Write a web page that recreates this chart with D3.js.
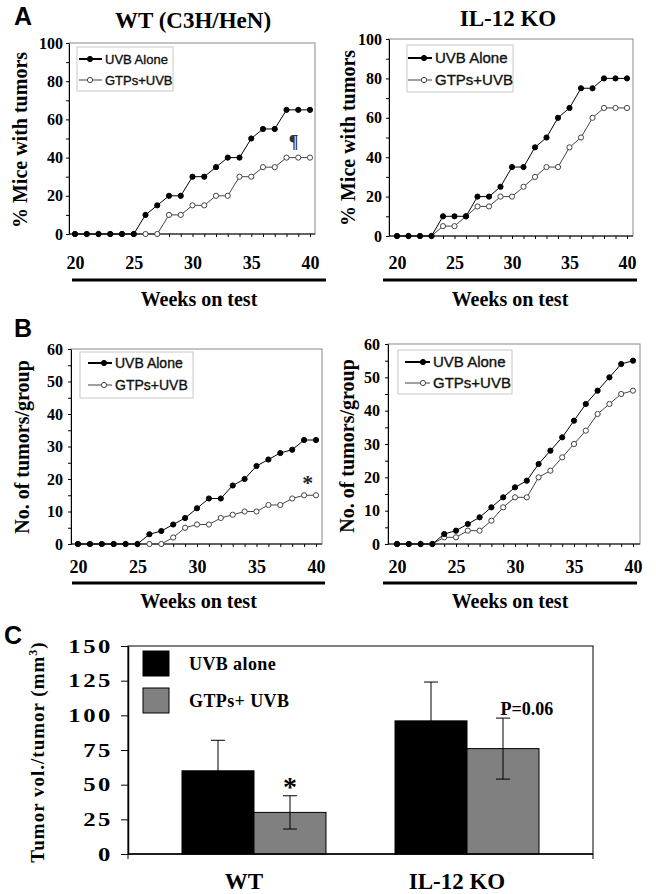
<!DOCTYPE html>
<html>
<head>
<meta charset="utf-8">
<script src="https://cdnjs.cloudflare.com/ajax/libs/d3/7.8.5/d3.min.js"></script>
<style>
    body { margin: 0; background: #fff; }
    svg { display: block; }
</style>
</head>
<body>
<svg class="chart"></svg>
<script>

//
// Three-panel figure: tumor incidence (A), multiplicity (B) and tumor volume (C).
//

var weeks = [20, 21, 22, 23, 24, 25, 26, 27, 28, 29, 30, 31, 32, 33, 34, 35, 36, 37, 38, 39, 40];
var weekTicks = [20, 25, 30, 35, 40];
var seriesNames = ["UVB Alone", "GTPs+UVB"];

// Panel A: % mice with tumors
var pctTicks = [0, 20, 40, 60, 80, 100];
var pctMinor = [10, 30, 50, 70, 90];
var wtPctUVB = [0, 0, 0, 0, 0, 0, 10, 15, 20, 20, 30, 30, 35, 40, 40, 50, 55, 55, 65, 65, 65];
var wtPctGTP = [0, 0, 0, 0, 0, 0, 0, 0, 10, 10, 15, 15, 20, 20, 30, 30, 35, 35, 40, 40, 40];
var koPctUVB = [0, 0, 0, 0, 10, 10, 10, 20, 20, 25, 35, 35, 45, 50, 60, 65, 75, 75, 80, 80, 80];
var koPctGTP = [0, 0, 0, 0, 5, 5, 10, 15, 15, 20, 20, 25, 30, 35, 35, 45, 50, 60, 65, 65, 65];

// Panel B: number of tumors per group
var countTicks = [0, 10, 20, 30, 40, 50, 60];
var countMinor = [5, 15, 25, 35, 45, 55];
var wtCountUVB = [0, 0, 0, 0, 0, 0, 3, 4, 6, 8, 11, 14, 14, 18, 20, 24, 26, 28, 29, 32, 32];
var wtCountGTP = [0, 0, 0, 0, 0, 0, 0, 0, 2, 5, 6, 6, 8, 9, 10, 10, 12, 12, 14, 15, 15];
var koCountUVB = [0, 0, 0, 0, 3, 4, 6, 8, 11, 14, 17, 19, 24, 28, 32, 37, 42, 46, 50, 54, 55];
var koCountGTP = [0, 0, 0, 0, 2, 2, 4, 4, 7, 11, 14, 14, 20, 22, 26, 30, 34, 39, 42, 45, 46];

// Panel C: tumor volume per tumor
var groups = ["WT", "IL-12 KO"];
var barNames = ["UVB alone", "GTPs+ UVB"];
var volUVB = [60, 96];
var volGTP = [30, 76];
var errUVB = [22, 28];
var errGTP = [12, 22];
var volTicks = [0, 25, 50, 75, 100, 125, 150];

var SERIF = '"Liberation Serif", "Times New Roman", serif';
var SANS = '"Liberation Sans", Arial, sans-serif';

var width = 656;
var height = 894;

var svg = d3.select("svg.chart")
    .attr("width", width)
    .attr("height", height);

function serifText (sel, size) { // Bold Times-like text, as in the figure.
    return sel
        .style("font-family", SERIF)
        .style("font-weight", "bold")
        .style("font-size", size + "px");
}

function drawLinePanel (p) { // Draws one line chart with its frame, axes, legend and labels.

    var x = d3.scaleLinear().domain([20, 40]).range([p.x0, p.x1]);
    var y = d3.scaleLinear().domain([0, p.yMax]).range([p.yBottom, p.yTop]);

    svg.append("rect") // Gray plot frame.
        .attr("x", p.boxLeft)
        .attr("y", p.yTop)
        .attr("width", p.boxRight - p.boxLeft)
        .attr("height", p.yBottom - p.yTop)
        .attr("fill", "none")
        .attr("stroke", "#8a8a8a");

    var yAxis = svg.append("g")
        .attr("transform", "translate(" + p.boxLeft + ",0)")
        .call(d3.axisLeft(y).tickValues(p.yTicks).tickSize(3).tickSizeOuter(0).tickPadding(p.yPad).tickFormat(d3.format("d")));
    serifText(yAxis.selectAll("text"), p.yFont);

    svg.append("g") // Minor ticks.
        .attr("transform", "translate(" + p.boxLeft + ",0)")
        .call(d3.axisLeft(y).tickValues(p.yMinor).tickSize(3).tickSizeOuter(0).tickFormat(""))
        .select(".domain").remove();

    svg.append("g") // Week ticks under the axis.
        .attr("transform", "translate(0," + p.yBottom + ")")
        .call(d3.axisBottom(x).tickValues(weeks).tickSize(3).tickFormat(""))
        .select(".domain").remove();

    svg.append("line") // Bottom axis line across the whole frame.
        .attr("x1", p.boxLeft).attr("x2", p.boxRight)
        .attr("y1", p.yBottom).attr("y2", p.yBottom)
        .attr("stroke", "#000");

    var xLabels = svg.append("g")
        .attr("transform", "translate(0," + p.yBottom + ")")
        .call(d3.axisBottom(x).tickValues(weekTicks).tickSize(0).tickPadding(p.xPad));
    xLabels.select(".domain").remove();
    serifText(xLabels.selectAll("text"), 18);

    svg.append("rect") // Thick rule above the axis title.
        .attr("x", p.ruleX0)
        .attr("y", p.ruleY - 1.5)
        .attr("width", p.ruleX1 - p.ruleX0)
        .attr("height", 3)
        .attr("fill", "#000");

    serifText(svg.append("text"), 20)
        .attr("x", (p.ruleX0 + p.ruleX1) / 2)
        .attr("y", p.xTitleY)
        .attr("text-anchor", "middle")
        .text("Weeks on test");

    serifText(svg.append("text"), 20)
        .attr("transform", "translate(" + p.yTitleX + "," + p.yTitleY + ") rotate(-90)")
        .attr("text-anchor", "middle")
        .text(p.yTitle);

    var line = d3.line()
        .x(function (d, i) { return x(weeks[i]); })
        .y(function (d) { return y(d); });

    var styles = [
        { values: p.uvb, stroke: "#000", fill: "#000" },
        { values: p.gtp, stroke: "#444", fill: "#fff" }
    ];

    styles.slice().reverse().forEach(function (s) { // GTPs underneath, UVB on top.
        svg.append("path")
            .datum(s.values)
            .attr("d", line)
            .attr("fill", "none")
            .attr("stroke", s.stroke)
            .attr("stroke-width", 1);

        svg.append("g")
            .selectAll("circle")
            .data(s.values)
            .enter()
                .append("circle")
                .attr("cx", function (d, i) { return x(weeks[i]); })
                .attr("cy", function (d) { return y(d); })
                .attr("r", 2.6)
                .attr("fill", s.fill)
                .attr("stroke", s.stroke)
                .attr("stroke-width", 1);
    });

    var lg = p.legend; // Legend box.
    svg.append("rect")
        .attr("x", lg.x).attr("y", lg.y)
        .attr("width", lg.w).attr("height", lg.h)
        .attr("fill", "#fff")
        .attr("stroke", "#c8c8c8");

    styles.forEach(function (s, i) {
        var rowY = lg.rows[i];
        svg.append("line")
            .attr("x1", lg.lineX0).attr("x2", lg.lineX1)
            .attr("y1", rowY).attr("y2", rowY)
            .attr("stroke", s.stroke)
            .attr("stroke-width", i === 0 ? 2 : 1);
        svg.append("circle")
            .attr("cx", lg.markX).attr("cy", rowY)
            .attr("r", 2.6)
            .attr("fill", s.fill)
            .attr("stroke", s.stroke);
        svg.append("text")
            .style("font-family", SANS)
            .style("font-size", lg.font + "px")
            .attr("x", lg.textX)
            .attr("y", rowY + lg.font * 0.36)
            .attr("fill", "#111")
            .attr("stroke", "#111")
            .attr("stroke-width", 0.35)
            .text(seriesNames[i]);
    });

    if (p.mark) { // Significance mark.
        serifText(svg.append("text"), p.mark.size)
            .attr("x", x(p.mark.week))
            .attr("y", y(p.mark.value))
            .attr("text-anchor", "middle")
            .attr("fill", p.mark.color)
            .text(p.mark.text);
    }

    if (p.title) {
        serifText(svg.append("text"), 23)
            .attr("x", p.title.x)
            .attr("y", p.title.y)
            .attr("text-anchor", "middle")
            .text(p.title.text);
    }
}

drawLinePanel({
    x0: 75, x1: 310, boxLeft: 69, boxRight: 315, yTop: 43, yBottom: 234, yMax: 100,
    yTicks: pctTicks, yMinor: pctMinor, yFont: 16, yPad: 3, xPad: 22,
    ruleX0: 72, ruleX1: 326, ruleY: 280, xTitleY: 306,
    yTitleX: 27, yTitleY: 140, yTitle: "% Mice with tumors",
    uvb: wtPctUVB, gtp: wtPctGTP,
    legend: { x: 77, y: 47, w: 96, h: 44, rows: [59, 80], lineX0: 79, lineX1: 102, markX: 90, textX: 105, font: 13 },
    mark: { week: 38.6, value: 45, text: "\u00b6", size: 18, color: "#333" },
    title: { x: 193, y: 28, text: "WT (C3H/HeN)" }
});

drawLinePanel({
    x0: 397, x1: 627, boxLeft: 389, boxRight: 633, yTop: 39, yBottom: 236, yMax: 100,
    yTicks: pctTicks, yMinor: pctMinor, yFont: 16, yPad: 4, xPad: 20,
    ruleX0: 383, ruleX1: 637, ruleY: 280, xTitleY: 306,
    yTitleX: 355, yTitleY: 138, yTitle: "% Mice with tumors",
    uvb: koPctUVB, gtp: koPctGTP,
    legend: { x: 407, y: 45, w: 106, h: 47, rows: [58, 80], lineX0: 408, lineX1: 432, markX: 424, textX: 435, font: 15 },
    title: { x: 508, y: 26, text: "IL-12 KO" }
});

drawLinePanel({
    x0: 78, x1: 316, boxLeft: 71, boxRight: 322, yTop: 349, yBottom: 544, yMax: 60,
    yTicks: countTicks, yMinor: countMinor, yFont: 16, yPad: 5, xPad: 16,
    ruleX0: 72, ruleX1: 325, ruleY: 583, xTitleY: 608,
    yTitleX: 29, yTitleY: 447, yTitle: "No. of tumors/group",
    uvb: wtCountUVB, gtp: wtCountGTP,
    legend: { x: 80, y: 352, w: 113, h: 46, rows: [363, 385], lineX0: 88, lineX1: 112, markX: 104, textX: 115, font: 14 },
    mark: { week: 39.3, value: 16.5, text: "*", size: 22, color: "#222" }
});

drawLinePanel({
    x0: 397, x1: 633, boxLeft: 388, boxRight: 640, yTop: 344, yBottom: 544, yMax: 60,
    yTicks: countTicks, yMinor: countMinor, yFont: 16, yPad: 5, xPad: 16,
    ruleX0: 383, ruleX1: 637, ruleY: 583, xTitleY: 608,
    yTitleX: 354, yTitleY: 446, yTitle: "No. of tumors/group",
    uvb: koCountUVB, gtp: koCountGTP,
    legend: { x: 398, y: 350, w: 114, h: 44, rows: [362, 383], lineX0: 405, lineX1: 430, markX: 423, textX: 433, font: 15 }
});

// Panel letters.
[["A", 14, 25], ["B", 14, 337], ["C", 4, 644]].forEach(function (l) {
    svg.append("text")
        .style("font-family", SANS)
        .style("font-weight", "bold")
        .style("font-size", "25px")
        .attr("x", l[1]).attr("y", l[2])
        .text(l[0]);
});

// Panel C: grouped bars with error bars.
var cLeft = 128, cRight = 593, cTop = 646, cBottom = 854;

var xGroup = d3.scaleBand()
    .domain(groups)
    .range([cLeft, cRight])
    .paddingInner(0.324)
    .paddingOuter(0.2535);

var xSeries = d3.scaleBand()
    .domain([0, 1])
    .range([0, xGroup.bandwidth()]);

var yVol = d3.scaleLinear().domain([0, 150]).range([cBottom, cTop]);

svg.append("rect")
    .attr("x", cLeft).attr("y", cTop)
    .attr("width", cRight - cLeft).attr("height", cBottom - cTop)
    .attr("fill", "none")
    .attr("stroke", "#000");

var barColors = ["#000", "#808080"];
var barValues = [volUVB, volGTP];
var barErrors = [errUVB, errGTP];

groups.forEach(function (g, gi) {
    [0, 1].forEach(function (si) {
        var bx = xGroup(g) + xSeries(si);
        var v = barValues[si][gi];
        var e = barErrors[si][gi];
        var cx = bx + xSeries.bandwidth() / 2;

        svg.append("rect")
            .attr("x", bx).attr("y", yVol(v))
            .attr("width", xSeries.bandwidth())
            .attr("height", yVol(0) - yVol(v))
            .attr("fill", barColors[si])
            .attr("stroke", "#000");

        svg.append("line") // Error bar.
            .attr("x1", cx).attr("x2", cx)
            .attr("y1", yVol(v - e)).attr("y2", yVol(v + e))
            .attr("stroke", "#000");
        [v - e, v + e].forEach(function (t) {
            svg.append("line")
                .attr("x1", cx - 7).attr("x2", cx + 7)
                .attr("y1", yVol(t)).attr("y2", yVol(t))
                .attr("stroke", "#000");
        });
    });
});

var stretch = 1.3; // The tick numbers of panel C are drawn wide in the figure.
var cAxis = svg.append("g")
    .attr("transform", "translate(" + cLeft + ",0)")
    .call(d3.axisLeft(yVol).tickValues(volTicks).tickSize(7).tickSizeOuter(0).tickPadding(8));
serifText(cAxis.selectAll("text"), 19)
    .style("letter-spacing", "2px")
    .attr("x", -15 / stretch)
    .attr("transform", "scale(" + stretch + ",1)");
cAxis.select(".domain").attr("stroke-width", 1.5);

svg.append("line")
    .attr("x1", cLeft).attr("x2", cRight)
    .attr("y1", cBottom).attr("y2", cBottom)
    .attr("stroke", "#000").attr("stroke-width", 1.5);

[cLeft, cRight].forEach(function (ex) { // End ticks of the category axis.
    svg.append("line")
        .attr("x1", ex).attr("x2", ex)
        .attr("y1", cBottom).attr("y2", cBottom + 5)
        .attr("stroke", "#000");
});

groups.forEach(function (g) {
    serifText(svg.append("text"), 23)
        .attr("x", xGroup(g) + xGroup.bandwidth() / 2 - 10)
        .attr("y", 889)
        .attr("text-anchor", "middle")
        .text(g);
});

var yTitle = serifText(svg.append("text"), 19)
    .attr("transform", "translate(44,752) rotate(-90)")
    .attr("text-anchor", "middle")
    .style("letter-spacing", "1px");
yTitle.append("tspan").text("Tumor vol./tumor (mm");
yTitle.append("tspan").attr("dy", -7).style("font-size", "12px").text("3");
yTitle.append("tspan").attr("dy", 7).text(")");

barNames.forEach(function (n, i) { // Legend for the bars.
    var ly = [651, 688][i];
    svg.append("rect")
        .attr("x", 143).attr("y", ly)
        .attr("width", 26).attr("height", 25)
        .attr("fill", barColors[i])
        .attr("stroke", "#000");
    serifText(svg.append("text"), 18)
        .attr("x", 189).attr("y", ly + 19)
        .style("letter-spacing", "0.4px")
        .text(n);
});

serifText(svg.append("text"), 28) // Significance marks.
    .attr("x", xGroup("WT") + xSeries(1) + xSeries.bandwidth() / 2)
    .attr("y", yVol(volGTP[0] + errGTP[0] + 2) + 3)
    .attr("text-anchor", "middle")
    .text("*");

serifText(svg.append("text"), 18)
    .attr("x", xGroup("IL-12 KO") + xSeries(1) + xSeries.bandwidth() / 2 + 24)
    .attr("y", yVol(volGTP[1] + errGTP[1] + 2))
    .attr("text-anchor", "middle")
    .text("P=0.06");

</script>
</body>
</html>
